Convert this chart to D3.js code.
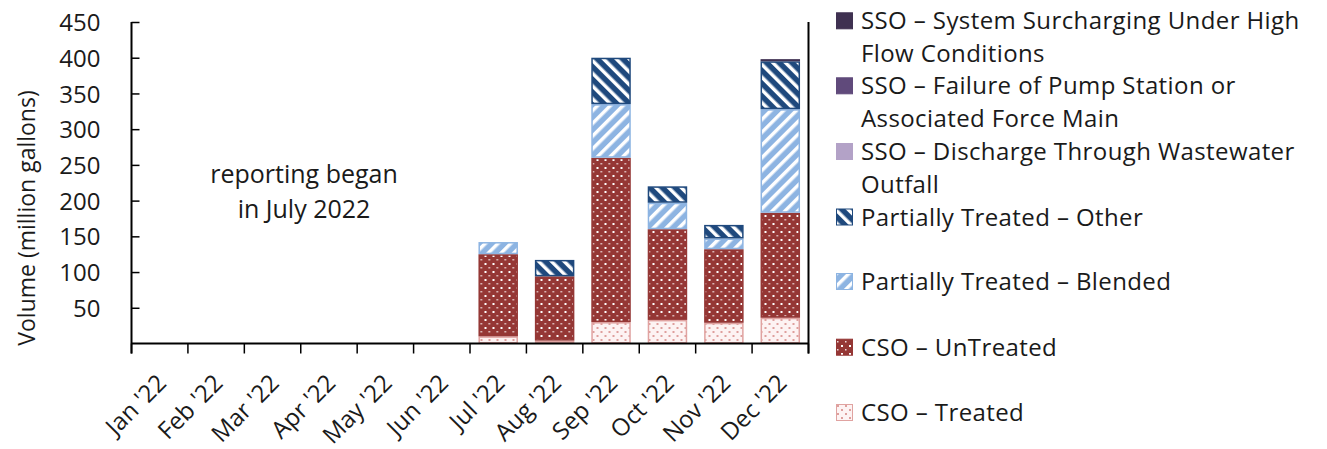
<!DOCTYPE html>
<html>
<head>
<meta charset="utf-8">
<script src="https://cdn.jsdelivr.net/npm/d3@7"></script>
<style>
  html, body { margin: 0; padding: 0; background: #fff; }
  svg { display: block; }
  text { font-family: "Open Sans", "Noto Sans", sans-serif; fill: #1a1a1a; }
</style>
</head>
<body>
<svg id="chart" width="1327" height="449"></svg>
<script>
// Monthly overflow volumes (million gallons), 2022
const months = ["Jan '22", "Feb '22", "Mar '22", "Apr '22", "May '22", "Jun '22",
                "Jul '22", "Aug '22", "Sep '22", "Oct '22", "Nov '22", "Dec '22"];

const csoTreated        = [0, 0, 0, 0, 0, 0, 10,  4,  30,  33,  29,  36];
const csoUntreated      = [0, 0, 0, 0, 0, 0, 115, 90, 230, 127, 103, 147];
const ptBlended         = [0, 0, 0, 0, 0, 0, 17,  0,  75,  37,  15,  145];
const ptOther           = [0, 0, 0, 0, 0, 0, 0,   23, 65,  23,  19,  67];
const ssoDischarge      = [0, 0, 0, 0, 0, 0, 0,   0,  0,   0,   0,   0];
const ssoPumpFailure    = [0, 0, 0, 0, 0, 0, 0,   0,  0,   0,   0,   0];
const ssoSurcharging    = [0, 0, 0, 0, 0, 0, 0,   0,  0,   0,   0,   3];

const yTicks = [50, 100, 150, 200, 250, 300, 350, 400, 450];

// Series in stacking order (bottom to top)
const series = [
  { key: "csoTreated",     label: ["CSO – Treated"],                                values: csoTreated,     fill: "url(#pTreated)",   stroke: "#e0a3a1" },
  { key: "csoUntreated",   label: ["CSO – UnTreated"],                              values: csoUntreated,   fill: "url(#pUntreated)", stroke: "#953735" },
  { key: "ptBlended",      label: ["Partially Treated – Blended"],                  values: ptBlended,      fill: "url(#pBlended)",   stroke: "#8db4e2" },
  { key: "ptOther",        label: ["Partially Treated – Other"],                    values: ptOther,        fill: "url(#pOther)",     stroke: "#1f497d" },
  { key: "ssoDischarge",   label: ["SSO – Discharge Through Wastewater", "Outfall"], values: ssoDischarge,   fill: "#b3a2c7",          stroke: "#b3a2c7" },
  { key: "ssoPumpFailure", label: ["SSO – Failure of Pump Station or", "Associated Force Main"], values: ssoPumpFailure, fill: "#604a7b", stroke: "#604a7b" },
  { key: "ssoSurcharging", label: ["SSO – System Surcharging Under High", "Flow Conditions"], values: ssoSurcharging, fill: "#3f3151", stroke: "#3f3151" }
];

const svg = d3.select("#chart");
const W = 1327, H = 449;
const margin = { left: 131.5, right: W - 808.5, top: 22, bottom: H - 343.5 };
const plotW = W - margin.left - margin.right;
const plotH = H - margin.top - margin.bottom;

// Fill patterns
const defs = svg.append("defs");

const pT = defs.append("pattern").attr("id", "pTreated").attr("patternUnits", "userSpaceOnUse")
  .attr("width", 8).attr("height", 8);
pT.append("rect").attr("width", 8).attr("height", 8).attr("fill", "#fdf3f3");
pT.append("rect").attr("x", 1).attr("y", 1).attr("width", 2).attr("height", 2).attr("fill", "#de9f9d");
pT.append("rect").attr("x", 5).attr("y", 5).attr("width", 2).attr("height", 2).attr("fill", "#de9f9d");

const pU = defs.append("pattern").attr("id", "pUntreated").attr("patternUnits", "userSpaceOnUse")
  .attr("width", 8).attr("height", 8);
pU.append("rect").attr("width", 8).attr("height", 8).attr("fill", "#953735");
pU.append("rect").attr("x", 1).attr("y", 1).attr("width", 2).attr("height", 2).attr("fill", "#ffffff");
pU.append("rect").attr("x", 5).attr("y", 5).attr("width", 1.5).attr("height", 1.5).attr("fill", "#f0dcdc");

const pB = defs.append("pattern").attr("id", "pBlended").attr("patternUnits", "userSpaceOnUse")
  .attr("width", 9).attr("height", 9).attr("patternTransform", "rotate(45)");
pB.append("rect").attr("width", 9).attr("height", 9).attr("fill", "#8db4e2");
pB.append("rect").attr("x", 0).attr("width", 3.5).attr("height", 9).attr("fill", "#ffffff");

const pO = defs.append("pattern").attr("id", "pOther").attr("patternUnits", "userSpaceOnUse")
  .attr("width", 9).attr("height", 9).attr("patternTransform", "rotate(-45)");
pO.append("rect").attr("width", 9).attr("height", 9).attr("fill", "#1f497d");
pO.append("rect").attr("x", 0).attr("width", 3.5).attr("height", 9).attr("fill", "#ffffff");

const g = svg.append("g").attr("transform", `translate(${margin.left},${margin.top})`);

const x = d3.scaleBand().domain(months).range([0, plotW]).paddingInner(0.3).paddingOuter(0.15);
const y = d3.scaleLinear().domain([0, 450]).range([plotH, 0]);

// Stack the series
const table = months.map((m, i) => {
  const row = { month: m };
  series.forEach(s => row[s.key] = s.values[i]);
  return row;
});
const stacked = d3.stack().keys(series.map(s => s.key))(table);

const layers = g.selectAll("g.layer").data(stacked).join("g").attr("class", "layer")
  .attr("fill", (d, i) => series[i].fill)
  .attr("stroke", (d, i) => series[i].stroke);

layers.selectAll("rect")
  .data(d => d.filter(p => p[1] - p[0] > 0))
  .join("rect")
  .attr("x", d => x(d.data.month) + 0.75)
  .attr("width", x.bandwidth() - 1.5)
  .attr("y", d => y(d[1]) + 0.75)
  .attr("height", d => Math.max(0.5, y(d[0]) - y(d[1]) - 1.5))
  .attr("stroke-width", 1.5);

// Y axis with inward ticks
const yAxis = g.append("g")
  .call(d3.axisLeft(y).tickValues(yTicks).tickSizeInner(-8).tickSizeOuter(0).tickPadding(0));
yAxis.select(".domain").remove();
yAxis.selectAll(".tick line").attr("stroke", "#000").attr("stroke-width", 1.5);
yAxis.selectAll(".tick text").attr("font-size", 24).attr("x", -31).attr("dy", "0.36em");
g.append("line").attr("x1", 0).attr("x2", 0).attr("y1", 0).attr("y2", plotH + 10)
  .attr("stroke", "#000").attr("stroke-width", 2);

// X axis: ticks at category boundaries
g.append("line").attr("x1", 0).attr("x2", plotW).attr("y1", plotH).attr("y2", plotH)
  .attr("stroke", "#000").attr("stroke-width", 2);
const step = x.step();
const bounds = d3.range(months.length + 1).map(i => i * step + x(months[0]) - x.paddingOuter() * step);
g.selectAll("line.xtick").data(bounds).join("line").attr("class", "xtick")
  .attr("x1", d => d).attr("x2", d => d)
  .attr("y1", plotH).attr("y2", plotH + 10)
  .attr("stroke", "#000").attr("stroke-width", 1.5);
// right-hand edge
g.append("line").attr("x1", plotW).attr("x2", plotW).attr("y1", 0).attr("y2", plotH + 10)
  .attr("stroke", "#000").attr("stroke-width", 2);

g.selectAll("text.xlabel").data(months).join("text").attr("class", "xlabel")
  .attr("transform", d => `translate(${x(d) + x.bandwidth() / 2 + 8},${plotH + 41}) rotate(-45)`)
  .attr("text-anchor", "end")
  .attr("font-size", 24)
  .text(d => d);

// Y axis title
svg.append("text")
  .attr("transform", `translate(35,218) rotate(-90)`)
  .attr("text-anchor", "middle")
  .attr("font-size", 23)
  .text("Volume (million gallons)");

// Annotation
const note = svg.append("text").attr("text-anchor", "middle").attr("font-size", 25);
note.append("tspan").attr("x", 304).attr("y", 183).text("reporting began");
note.append("tspan").attr("x", 304).attr("y", 218).text("in July 2022");

// Legend, top to bottom in reverse stacking order
const legendBaselines = [29.3, 94.3, 160, 225.5, 290, 355.7, 421];
const legend = svg.append("g");
series.slice().reverse().forEach((s, i) => {
  const base = legendBaselines[i];
  legend.append("rect").attr("x", 836.5).attr("y", base - 16.5).attr("width", 16).attr("height", 16)
    .attr("fill", s.fill).attr("stroke", s.stroke).attr("stroke-width", 1);
  const t = legend.append("text").attr("font-size", 24).attr("letter-spacing", 0.4);
  s.label.forEach((line, j) => {
    t.append("tspan").attr("x", 861).attr("y", base + j * 32.5).text(line);
  });
});
</script>
</body>
</html>
